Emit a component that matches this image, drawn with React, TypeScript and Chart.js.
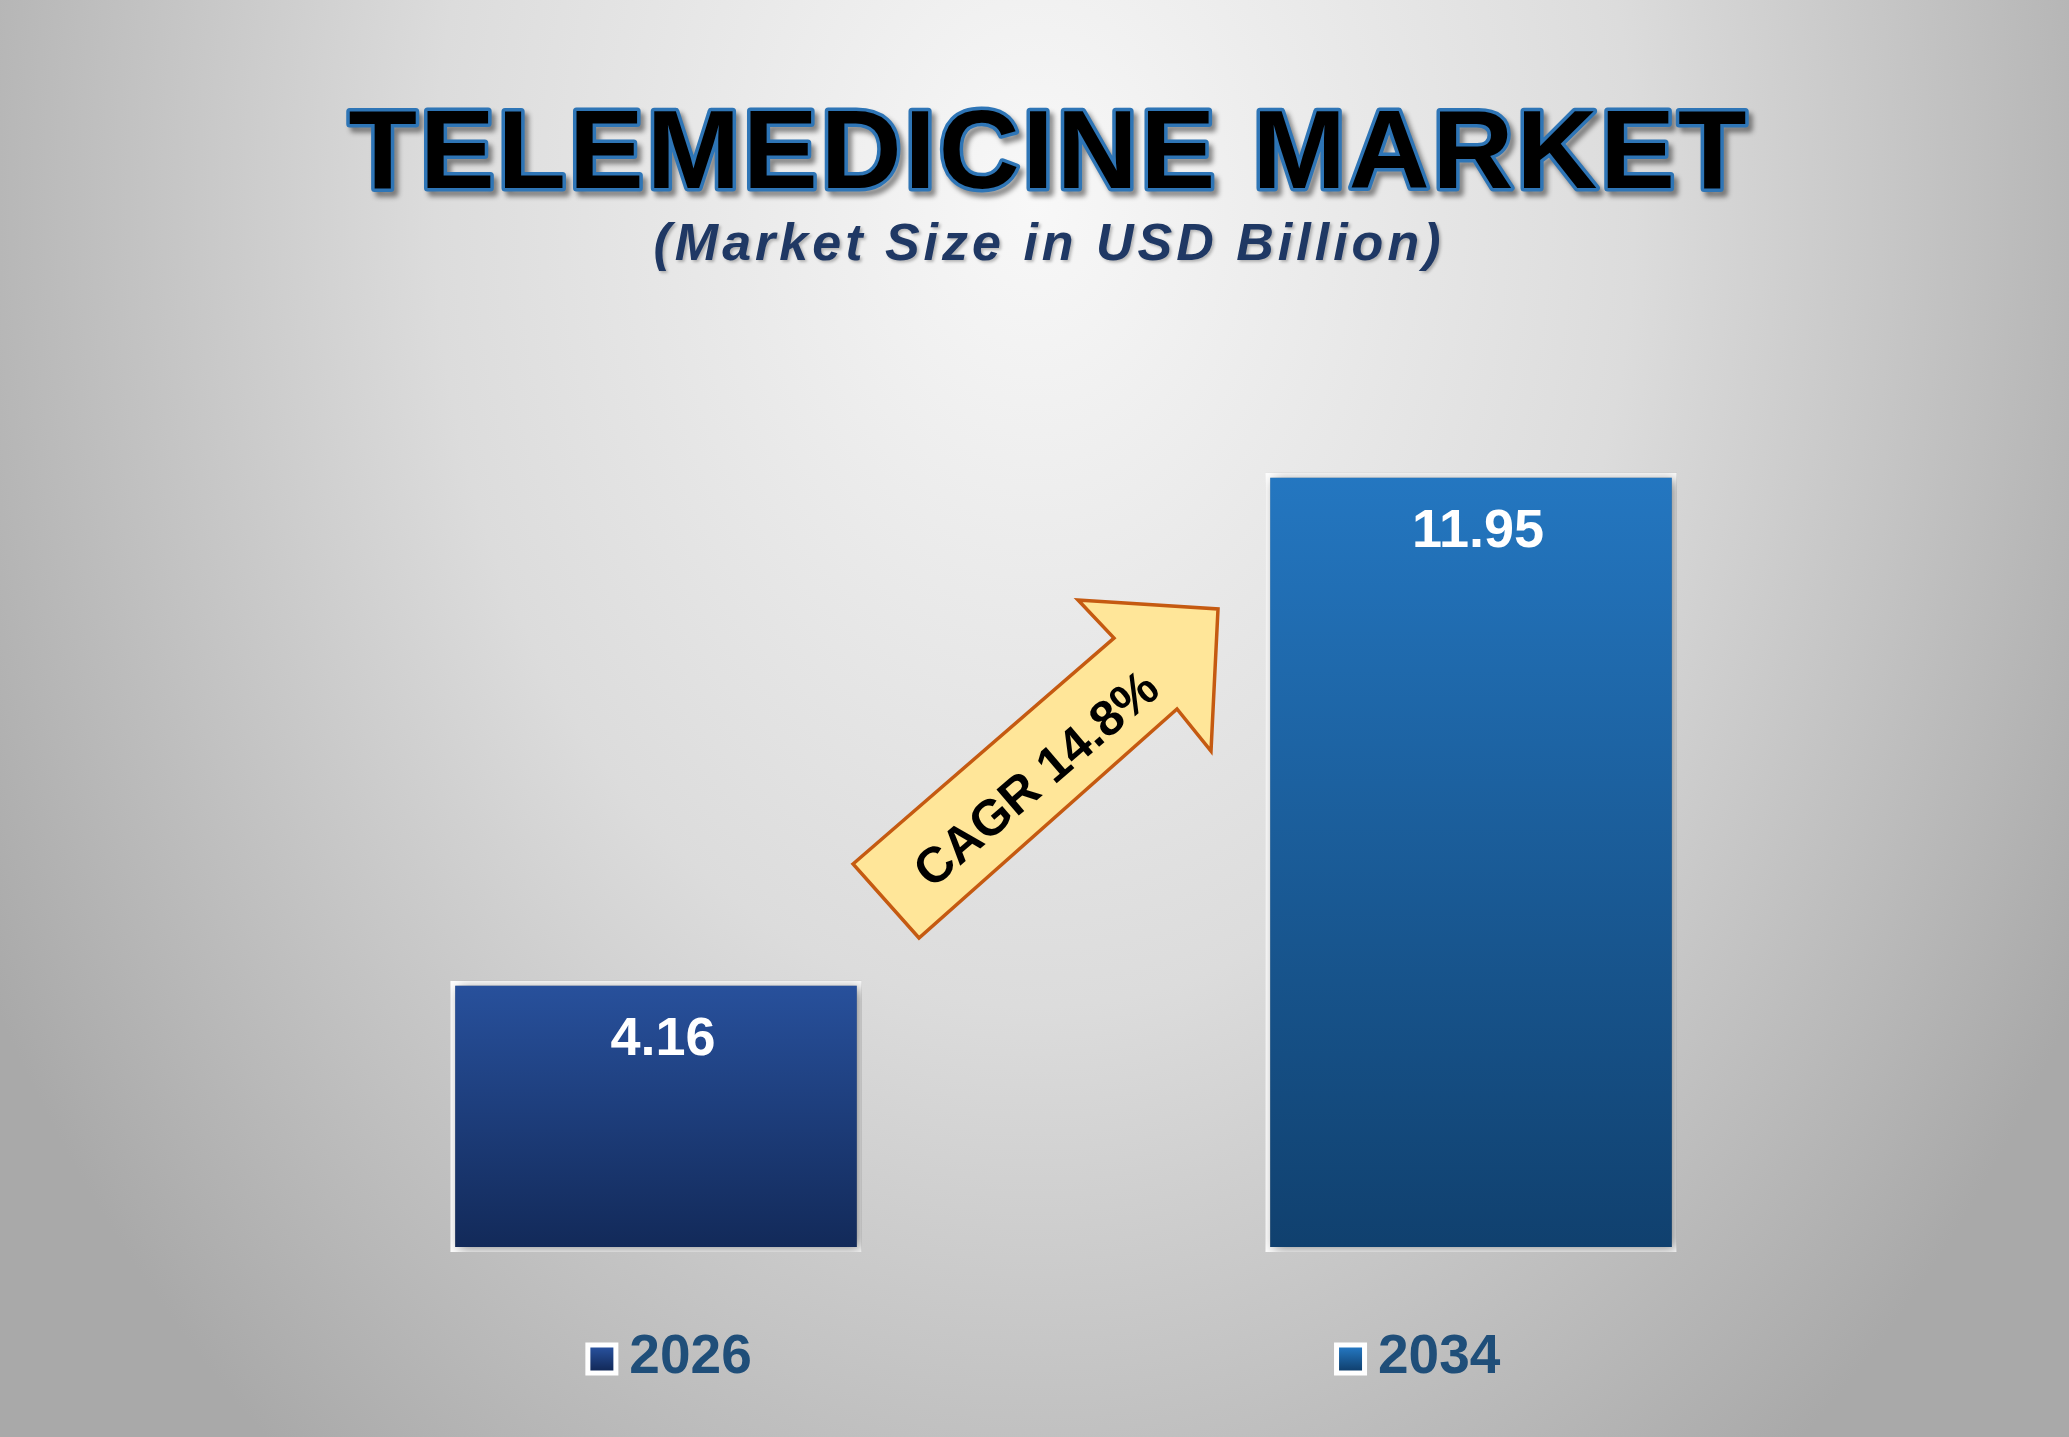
import React, { useEffect, useRef } from "react";
import { Chart, registerables } from "chart.js";

Chart.register(...registerables);

const years = ["2026", "2034"];
const marketSize = [4.16, 11.95];
const cagrLabel = "CAGR 14.8%";
const titleText = "TELEMEDICINE MARKET";
const subtitleText = "(Market Size in USD Billion)";
const barTopColors = ["#28519d", "#2477c1"];
const barBottomColors = ["#122958", "#10406e"];

const FONT = "'Liberation Sans', Arial, Helvetica, sans-serif";

function barGradient(chart: any, i: number) {
  const area = chart.chartArea;
  if (!area || !chart.scales || !chart.scales.y) return barTopColors[i];
  const y = chart.scales.y;
  const top = y.getPixelForValue(marketSize[i]);
  const bottom = y.getPixelForValue(0);
  const g = chart.ctx.createLinearGradient(0, top, 0, bottom);
  g.addColorStop(0, barTopColors[i]);
  g.addColorStop(1, barBottomColors[i]);
  return g;
}

const decorPlugin = {
  id: "decor",
  beforeDraw(chart: any) {
    const ctx = chart.ctx as CanvasRenderingContext2D;
    const w = chart.width;
    const h = chart.height;
    ctx.save();
    const cx = w * 0.5;
    const cy = h * 0.14;
    const rx = w * 0.58;
    const ry = h * 1.12;
    ctx.translate(cx, cy);
    ctx.scale(1, ry / rx);
    const g = ctx.createRadialGradient(0, 0, 0, 0, 0, rx);
    g.addColorStop(0, "#f8f8f8");
    g.addColorStop(0.5, "#dcdcdc");
    g.addColorStop(1, "#a9a9a9");
    ctx.fillStyle = g;
    ctx.fillRect(-cx - 10, -cy * 2 - 10, w + 20, (h * 2 * rx) / ry + 20);
    ctx.restore();

    ctx.save();
    const tx = w * 0.507;
    ctx.font = `bold 112px ${FONT}`;
    (ctx as any).letterSpacing = "3px";
    ctx.textAlign = "center";
    ctx.textBaseline = "alphabetic";
    ctx.shadowColor = "rgba(0,0,0,0.45)";
    ctx.shadowBlur = 5;
    ctx.shadowOffsetX = 4;
    ctx.shadowOffsetY = 5;
    ctx.lineJoin = "round";
    ctx.strokeStyle = "#2e75b6";
    ctx.lineWidth = 7;
    ctx.strokeText(titleText, tx, 188);
    ctx.shadowColor = "transparent";
    ctx.fillStyle = "#000000";
    ctx.fillText(titleText, tx, 188);

    ctx.font = `italic bold 52px ${FONT}`;
    (ctx as any).letterSpacing = "4px";
    ctx.fillStyle = "#1f3864";
    ctx.shadowColor = "rgba(0,0,0,0.25)";
    ctx.shadowBlur = 3;
    ctx.shadowOffsetX = 2;
    ctx.shadowOffsetY = 2;
    ctx.fillText(subtitleText, tx, 260);
    ctx.restore();
  },
  beforeDatasetsDraw(chart: any) {
    const ctx = chart.ctx as CanvasRenderingContext2D;
    ctx.save();
    ctx.shadowColor = "rgba(0,0,0,0.45)";
    ctx.shadowBlur = 12;
    ctx.shadowOffsetX = 4;
    ctx.shadowOffsetY = 2;
  },
  afterDatasetsDraw(chart: any) {
    const ctx = chart.ctx as CanvasRenderingContext2D;
    ctx.restore();
    const meta = chart.getDatasetMeta(0);
    const area = chart.chartArea;

    ctx.save();
    ctx.font = `bold 54px ${FONT}`;
    ctx.fillStyle = "#ffffff";
    ctx.textAlign = "center";
    ctx.textBaseline = "middle";
    meta.data.forEach((bar: any, i: number) => {
      ctx.fillText(String(marketSize[i].toFixed(2)), bar.x + 7, bar.y + 59);
    });
    ctx.restore();

    const fracs = [0.2577, 0.717];
    ctx.save();
    ctx.font = `bold 55px ${FONT}`;
    ctx.textBaseline = "middle";
    years.forEach((yr, i) => {
      const tw = ctx.measureText(yr).width;
      const box = 33;
      const gap = 11;
      const total = box + gap + tw;
      const cx = area.left + area.width * fracs[i];
      const x0 = cx - total / 2;
      const yc = 1359;
      ctx.fillStyle = "#ffffff";
      ctx.fillRect(x0, yc - box / 2, box, box);
      const g = ctx.createLinearGradient(0, yc - box / 2 + 5, 0, yc + box / 2 - 5);
      g.addColorStop(0, barTopColors[i]);
      g.addColorStop(1, barBottomColors[i]);
      ctx.fillStyle = g;
      ctx.fillRect(x0 + 5, yc - box / 2 + 5, box - 10, box - 10);
      ctx.fillStyle = "#1f4e79";
      ctx.textAlign = "left";
      ctx.fillText(yr, x0 + box + gap, yc - 1);
    });
    ctx.restore();

    ctx.save();
    const pts: [number, number][] = [
      [853, 864],
      [1114, 638],
      [1078, 600],
      [1218, 609],
      [1211, 751],
      [1177, 709],
      [919, 938],
    ];
    ctx.beginPath();
    pts.forEach((p, k) => (k === 0 ? ctx.moveTo(p[0], p[1]) : ctx.lineTo(p[0], p[1])));
    ctx.closePath();
    ctx.fillStyle = "#ffe699";
    ctx.fill();
    ctx.lineWidth = 3.5;
    ctx.lineJoin = "miter";
    ctx.strokeStyle = "#c55a11";
    ctx.stroke();
    ctx.translate(1038, 781);
    ctx.rotate((-40.5 * Math.PI) / 180);
    ctx.font = `bold 50px ${FONT}`;
    ctx.fillStyle = "#000000";
    ctx.textAlign = "center";
    ctx.textBaseline = "middle";
    ctx.fillText(cagrLabel, 0, 0);
    ctx.restore();
  },
};

export default function App() {
  const canvasRef = useRef<HTMLCanvasElement | null>(null);

  useEffect(() => {
    if (!canvasRef.current) return;
    const chart = new Chart(canvasRef.current, {
      type: "bar",
      data: {
        labels: years,
        datasets: [
          {
            label: "Market Size",
            data: marketSize,
            backgroundColor: (c: any) => barGradient(c.chart, c.dataIndex),
            borderColor: "#ffffff",
            borderWidth: 5,
            borderSkipped: false,
            categoryPercentage: 1,
            barPercentage: 0.505,
          },
        ],
      },
      options: {
        responsive: true,
        maintainAspectRatio: false,
        animation: false,
        events: [],
        layout: { padding: { left: 248.5, right: 190.5, top: 339, bottom: 185 } },
        scales: {
          x: { display: false },
          y: { display: false, min: 0, max: 14 },
        },
        plugins: {
          legend: { display: false },
          tooltip: { enabled: false },
          title: { display: false },
        },
      },
      plugins: [decorPlugin],
    });
    return () => chart.destroy();
  }, []);

  return (
    <div style={{ position: "fixed", left: 0, top: 0, width: "100vw", height: "100vh", overflow: "hidden" }}>
      <canvas ref={canvasRef} />
    </div>
  );
}
